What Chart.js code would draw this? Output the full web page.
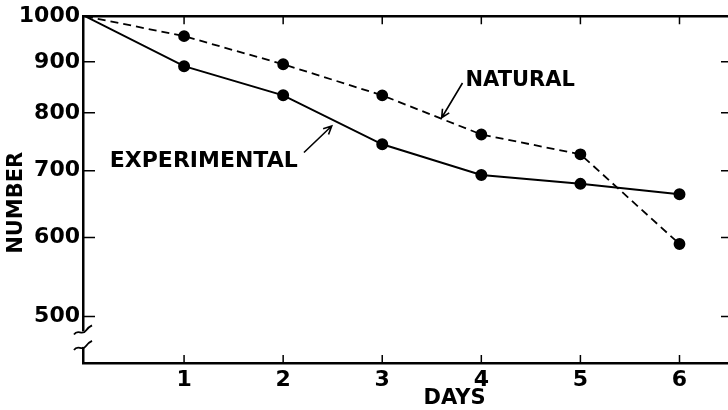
<!DOCTYPE html>
<html>
<head>
<meta charset="utf-8">
<script src="https://cdn.jsdelivr.net/npm/chart.js@4.4.1/dist/chart.umd.min.js"></script>
<style>
html, body { margin: 0; padding: 0; background: #fff; overflow: hidden; }
#wrap { width: 728px; height: 410px; overflow: hidden; }
</style>
</head>
<body>
<div id="wrap"><canvas id="survivalChart" width="740" height="410"></canvas></div>
<script>
// Survivors per day (log scale)
const days = [0, 1, 2, 3, 4, 5, 6];
const naturalCounts = [1000, 955, 895, 833, 761, 727, 591];
const experimentalCounts = [1000, 891, 833, 744, 693, 679, 663];
const yTickValues = [500, 600, 700, 800, 900, 1000];
const xTickValues = [1, 2, 3, 4, 5, 6];

const FONT = '"DejaVu Sans", sans-serif';

function toPoints(values) {
    return days.map((d, i) => ({ x: d, y: values[i] }));
}

// Frame, inward ticks, axis break, titles and the hand-lettered labels
const framePlugin = {
    id: 'frame',
    afterDraw(chart) {
        const ctx = chart.ctx;
        const { left, right, top, bottom } = chart.chartArea;
        const xs = chart.scales.x;
        const ys = chart.scales.y;
        ctx.save();
        ctx.strokeStyle = '#000';
        ctx.fillStyle = '#000';
        ctx.lineCap = 'butt';

        // top and right border
        ctx.lineWidth = 2.5;
        ctx.beginPath();
        ctx.moveTo(left, top);
        ctx.lineTo(right, top);
        ctx.lineTo(right, bottom);
        ctx.stroke();

        // inward ticks
        ctx.lineWidth = 1.5;
        ctx.beginPath();
        yTickValues.forEach(v => {
            const py = ys.getPixelForValue(v);
            ctx.moveTo(left, py); ctx.lineTo(left + 12, py);
            ctx.moveTo(right, py); ctx.lineTo(right - 12, py);
        });
        xTickValues.forEach(v => {
            const px = xs.getPixelForValue(v);
            ctx.moveTo(px, bottom); ctx.lineTo(px, bottom - 8);
            ctx.moveTo(px, top); ctx.lineTo(px, top + 8);
        });
        ctx.stroke();

        // axis break on the y axis
        const b1 = ys.getPixelForValue(483);
        const b2 = ys.getPixelForValue(466);
        ctx.fillStyle = '#fff';
        ctx.fillRect(left - 3, b1, 6, b2 - b1);
        ctx.fillStyle = '#000';
        ctx.lineWidth = 1.8;
        [b1, b2].forEach(by => {
            ctx.beginPath();
            ctx.moveTo(left - 9, by + 3);
            ctx.bezierCurveTo(left - 5, by - 3, left - 1, by + 5, left + 3, by - 1);
            ctx.bezierCurveTo(left + 5, by - 4, left + 7, by - 5, left + 9, by - 6);
            ctx.stroke();
        });

        // axis titles
        ctx.font = 'bold 21px ' + FONT;
        ctx.textAlign = 'center';
        ctx.textBaseline = 'middle';
        ctx.fillText('DAYS', xs.getPixelForValue(3.73), 399);
        ctx.save();
        ctx.translate(17, ys.getPixelForValue(650));
        ctx.rotate(-Math.PI / 2);
        ctx.fillText('NUMBER', 0, 0);
        ctx.restore();

        // curve labels with arrows
        ctx.font = 'bold 22px ' + FONT;
        ctx.textAlign = 'left';
        ctx.fillText('EXPERIMENTAL', xs.getPixelForValue(0.25), ys.getPixelForValue(716));
        ctx.font = 'bold 21px ' + FONT;
        ctx.fillText('NATURAL', xs.getPixelForValue(3.84), ys.getPixelForValue(861));

        function arrow(x0, v0, x1, v1) {
            const ax = xs.getPixelForValue(x0), ay = ys.getPixelForValue(v0);
            const bx = xs.getPixelForValue(x1), by = ys.getPixelForValue(v1);
            const ang = Math.atan2(by - ay, bx - ax);
            ctx.lineWidth = 1.6;
            ctx.beginPath();
            ctx.moveTo(ax, ay);
            ctx.lineTo(bx, by);
            ctx.moveTo(bx - 9 * Math.cos(ang - 0.45), by - 9 * Math.sin(ang - 0.45));
            ctx.lineTo(bx, by);
            ctx.lineTo(bx - 9 * Math.cos(ang + 0.45), by - 9 * Math.sin(ang + 0.45));
            ctx.stroke();
        }
        arrow(2.21, 730, 2.49, 776);
        arrow(3.81, 857, 3.60, 791);

        ctx.restore();
    }
};

const ctx = document.getElementById('survivalChart').getContext('2d');
new Chart(ctx, {
    type: 'line',
    data: {
        datasets: [
            {
                label: 'Natural',
                data: toPoints(naturalCounts),
                borderColor: '#000',
                borderWidth: 1.8,
                borderDash: [8, 5],
                pointRadius: days.map(d => d === 0 ? 0 : 5),
                pointBackgroundColor: '#000',
                pointBorderColor: '#000',
                tension: 0,
                fill: false
            },
            {
                label: 'Experimental',
                data: toPoints(experimentalCounts),
                borderColor: '#000',
                borderWidth: 2,
                pointRadius: days.map(d => d === 0 ? 0 : 5),
                pointBackgroundColor: '#000',
                pointBorderColor: '#000',
                tension: 0,
                fill: false
            }
        ]
    },
    options: {
        responsive: false,
        animation: false,
        layout: { padding: { top: 15, right: 3, left: 0, bottom: 0 } },
        plugins: {
            legend: { display: false },
            tooltip: { enabled: false }
        },
        scales: {
            x: {
                type: 'linear',
                min: -0.02,
                max: 6.54,
                afterBuildTicks: s => { s.ticks = xTickValues.map(v => ({ value: v })); },
                afterFit: s => { s.height = 47; },
                grid: { display: false, drawTicks: false },
                border: { display: true, color: '#000', width: 2.5 },
                ticks: {
                    color: '#000',
                    padding: 4,
                    maxRotation: 0,
                    font: { family: FONT, size: 22, weight: 'bold' },
                    callback: v => String(v)
                }
            },
            y: {
                type: 'logarithmic',
                min: 449,
                max: 1000,
                afterBuildTicks: s => { s.ticks = yTickValues.map(v => ({ value: v })); },
                afterFit: s => { s.width = 83; },
                grid: { display: false, drawTicks: false },
                border: { display: true, color: '#000', width: 2.5 },
                ticks: {
                    color: '#000',
                    padding: 3,
                    font: { family: FONT, size: 22, weight: 'bold' },
                    callback: v => String(v)
                }
            }
        }
    },
    plugins: [framePlugin]
});
</script>
</body>
</html>
